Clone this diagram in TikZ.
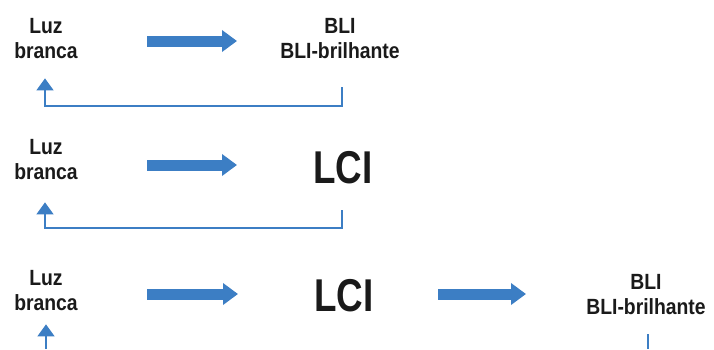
\documentclass[tikz,border=0pt]{standalone}
\usepackage{fontspec}
\usepackage{tikz}
\usetikzlibrary{arrows.meta, positioning}
\newfontfamily\lblfont[FakeStretch=0.88]{Liberation Sans}
\newfontfamily\bigfont[FakeStretch=0.8]{Liberation Sans}
\definecolor{arrowblue}{RGB}{60,126,196}
\definecolor{txt}{RGB}{26,26,26}
\tikzstyle{lbl} = [align=center, inner sep=0pt, text=txt, font=\lblfont\bfseries\fontsize{22}{25}\selectfont]
\tikzstyle{big} = [inner sep=0pt, text=txt, font=\bigfont\bfseries\fontsize{46}{50}\selectfont]
\tikzstyle{blockarrow} = [arrowblue, line width=11pt, -{Triangle[width=21pt,length=15pt]}]
\tikzstyle{fback} = [arrowblue, line width=1.5pt, -{Triangle[width=17pt,length=12pt]}]
\tikzstyle{fline} = [arrowblue, line width=1.5pt]

\begin{document}
\begin{tikzpicture}[x=1pt, y=-1pt]
    \useasboundingbox (0, 0) rectangle (714, 349);

    % row 1
    \node (luzA) [lbl] at (46, 39) {Luz\\branca};
    \node (bliA) [lbl] at (340, 39) {BLI\\BLI-brilhante};
    \coordinate (a1s) at (147, 41);
    \coordinate (a1e) at (237, 41);
    \coordinate (fbA) at (45, 106);
    \draw [blockarrow] (a1s) -- (a1e);
    \draw [fback, shorten <=28pt, shorten >=19pt] (bliA.south -| 342, 0) |- (fbA) -- (luzA.south -| fbA);

    % row 2
    \node (luzB) [lbl] at (46, 160) {Luz\\branca};
    \node (lciB) [big] at (343, 168) {LCI};
    \coordinate (a2s) at (147, 165);
    \coordinate (a2e) at (237, 165);
    \coordinate (fbB) at (45, 228);
    \draw [blockarrow] (a2s) -- (a2e);
    \draw [fback, shorten <=26pt, shorten >=22pt] (lciB.south -| 342, 0) |- (fbB) -- (luzB.south -| fbB);

    % row 3
    \node (luzC) [lbl] at (46, 291) {Luz\\branca};
    \node (lciC) [big] at (344, 296) {LCI};
    \node (bliC) [lbl] at (646, 295) {BLI\\BLI-brilhante};
    \coordinate (a3s) at (147, 294);
    \coordinate (a3e) at (238, 294);
    \coordinate (a4s) at (438, 294);
    \coordinate (a4e) at (526, 294);
    \coordinate (botL) at (46, 349);
    \coordinate (botR) at (648, 349);
    \draw [blockarrow] (a3s) -- (a3e);
    \draw [blockarrow] (a4s) -- (a4e);
    \draw [fback, shorten >=13pt] (botL) -- (luzC.south -| botL);
    \draw [fline, shorten <=19pt] (bliC.south -| botR) -- (botR);

\end{tikzpicture}
\end{document}
